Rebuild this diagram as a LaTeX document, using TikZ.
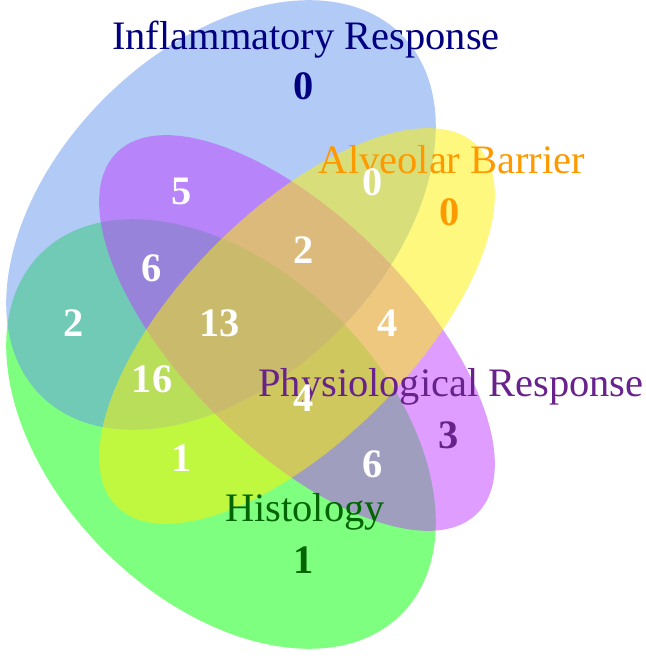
\documentclass[tikz,border=0pt]{standalone}
\usepackage{fontspec}
\setmainfont{Liberation Serif}
\usetikzlibrary{positioning}
\definecolor{cornflower}{RGB}{100,149,237}
\definecolor{orchid}{RGB}{191,62,255}
\definecolor{labelnavy}{RGB}{0,0,128}
\definecolor{labelorange}{RGB}{255,153,0}
\definecolor{labelpurple}{RGB}{104,34,139}
\definecolor{labelgreen}{RGB}{0,100,0}

\begin{document}
\begin{tikzpicture}[x=0.01cm, y=0.01cm,
        num/.style={font=\fontsize{11.5}{14}\selectfont\bfseries, text=white, anchor=base, inner sep=0pt},
        setname/.style={font=\fontsize{11.5}{14}\selectfont, anchor=base, inner sep=0pt}]
            \useasboundingbox (0,0) rectangle (646,669);

            % Sets
            \fill[green, fill opacity=0.5] (221,235) ellipse [x radius=255, y radius=165, rotate=-45];
            \fill[cornflower, fill opacity=0.5] (221,454) ellipse [x radius=255, y radius=165, rotate=45];
            \fill[orchid, fill opacity=0.5] (297,336) ellipse [x radius=255, y radius=115, rotate=-45];
            \fill[yellow, fill opacity=0.5] (297,343) ellipse [x radius=255, y radius=115, rotate=45];

            % Set names
            \node[setname, text=labelnavy] (inflamm) at (306,619) {Inflammatory Response};
            \node[setname, text=labelorange] (alveolar) at (452,495) {Alveolar Barrier};
            \node[setname, text=labelpurple] (physio) at (451,272) {Physiological Response};
            \node[setname, text=labelgreen] (histo) at (305,147) {Histology};

            % Counts
            \node[num, text=labelnavy] (inflammOnly) at (304,569) {0};
            \node[num, text=labelorange] (alveolarOnly) at (450,443) {0};
            \node[num, text=labelpurple] (physioOnly) at (449,221) {3};
            \node[num, text=labelgreen] (histoOnly) at (304,95) {1};
            \node[num] (inflammAlveolar) at (373,473) {0};
            \node[num] (inflammPhysio) at (182,464) {5};
            \node[num] (inflammAlveolarPhysio) at (304,406) {2};
            \node[num] (inflammPhysioHisto) at (152,387) {6};
            \node[num] (inflammHisto) at (74,332) {2};
            \node[num] (allFour) at (220,332) {13};
            \node[num] (alveolarPhysio) at (388,332) {4};
            \node[num] (inflammAlveolarHisto) at (152,276) {16};
            \node[num] (alveolarPhysioHisto) at (304,258) {4};
            \node[num] (alveolarHisto) at (182,198) {1};
            \node[num] (physioHisto) at (373,192) {6};

        \end{tikzpicture}
\end{document}
